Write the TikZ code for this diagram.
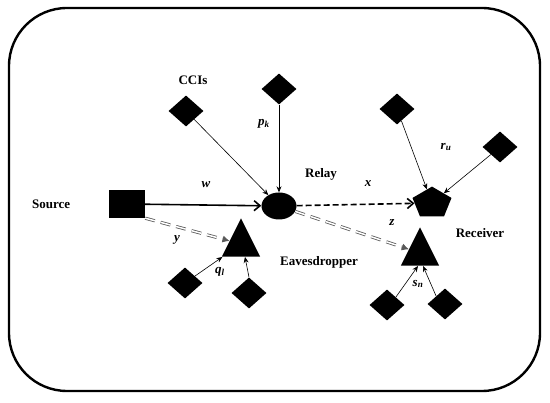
\documentclass[tikz,border=0pt]{standalone}
\usepackage{fontspec}
\setmainfont{Liberation Serif}
\usetikzlibrary{positioning,arrows.meta,shapes.geometric}

\begin{document}
\begin{tikzpicture}[x=1pt, y=-1pt, font=\fontsize{13}{15}\selectfont\bfseries,
  cci/.style={diamond, fill=black, minimum width=35pt, minimum height=31pt, inner sep=0pt},
  tri/.style={regular polygon, regular polygon sides=3, fill=black, minimum size=51pt, inner sep=0pt, xscale=0.87},
  lbl/.style={font=\fontsize{13}{15}\selectfont\bfseries\itshape, inner sep=1pt},
  link/.style={line width=0.6pt, -{Stealth[length=6pt,width=5pt]}},
  leak/.style={double=white, double distance=1.5pt, line width=0.8pt, draw=black!65, dash pattern=on 10pt off 6pt, -{Latex[length=7pt,width=7pt]}}]
\useasboundingbox (0,0) rectangle (550,403);
\draw[line width=2.4pt, rounded corners=58pt] (9,8) rectangle (540,391);
% source, relay, receiver
\node[fill=black, minimum width=36pt, minimum height=28pt, inner sep=0pt] (src) at (127,204) {};
\node[ellipse, fill=black, minimum width=35pt, minimum height=27pt, inner sep=0pt] (relay) at (279,206) {};
\node[regular polygon, regular polygon sides=5, fill=black, minimum size=41pt, inner sep=0pt, yscale=0.8] (rx) at (432,203) {};
\node[tri] (ev1) at (241,244) {}; \node[tri] (ev2) at (420,253) {};
\node[left=35pt of src] {Source}; \node at (321,174) {Relay}; \node at (480,233) {Receiver};
\node at (319,262) {Eavesdropper}; \node at (193,80) {CCIs};
% interferers
\node[cci] (c1) at (186,111) {}; \node[cci] (c2) at (279,89) {};
\node[cci] (c3) at (397,109) {}; \node[cci] (c4) at (500,147) {};
\node[cci] (c5) at (185,283) {}; \node[cci] (c6) at (249,293) {};
\node[cci] (c7) at (387,305) {}; \node[cci] (c8) at (445,304) {};
\draw[link] (c1)--(relay); \draw[link] (c2)--(relay);
\draw[link] (c3)--(rx); \draw[link] (c4)--(rx);
\draw[link] (c5)--(ev1); \draw[link] (c6.north)--([xshift=4pt]ev1.side 2);
\draw[link] (c7.north east)--([xshift=-2pt]ev2.side 2); \draw[link] (c8.north west)--([xshift=3pt]ev2.side 2);
% main links
\draw[line width=1.6pt, -{Straight Barb[length=6pt,width=10pt]}] (src)--(relay);
\draw[line width=1.6pt, dash pattern=on 6pt off 3pt, -{Straight Barb[length=6pt,width=10pt]}] (relay)--(rx);
\draw[leak] (src.south east)--(ev1); \draw[leak] (relay)--(ev2);
% channel labels
\node[lbl] at (206,185) {w}; \node[lbl] at (368,184) {x}; \node[lbl] at (177,240) {y}; \node[lbl] at (392,223) {z};
\node[lbl] at (264,124) {p\textsubscript{k}}; \node[lbl] at (446,147) {r\textsubscript{u}};
\node[lbl] at (220,272) {q\textsubscript{l}}; \node[lbl] at (418,284) {s\textsubscript{n}};
\end{tikzpicture}
\end{document}
